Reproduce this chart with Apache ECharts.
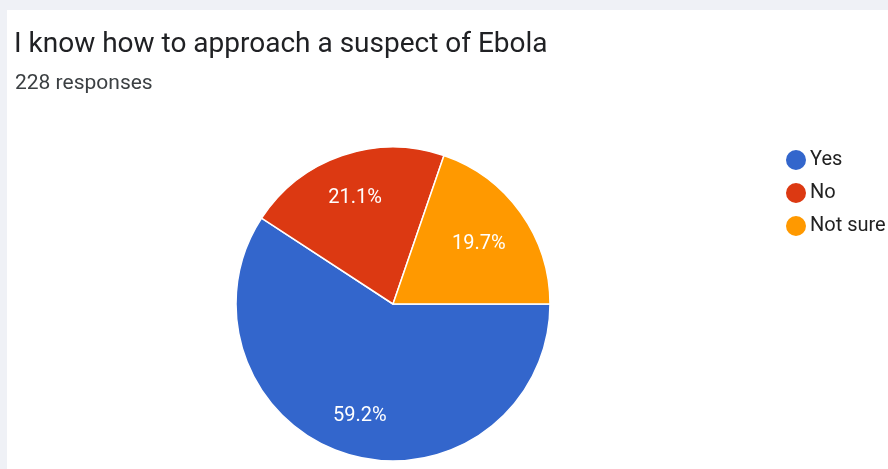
<!DOCTYPE html>
<html>
<head>
<meta charset="utf-8">
<script src="https://cdn.jsdelivr.net/npm/echarts@6/dist/echarts.min.js"></script>
<style>
  html, body { margin: 0; padding: 0; background: #eff1f6; }
  #chart { width: 888px; height: 469px; }
</style>
</head>
<body>
<div id="chart"></div>
<script>
// Survey answers and response counts (228 responses in total)
const categories = ['Yes', 'No', 'Not sure'];
const counts = [135, 48, 45];
const colors = ['#3366cc', '#dc3912', '#ff9900'];
const questionTitle = 'I know how to approach a suspect of Ebola';
const responseNote = '228 responses';

// small nudges so each percentage sits comfortably inside its slice
const labelNudges = [[0, 0], [0, 4], [-9, 8]];

const total = counts.reduce((a, b) => a + b, 0);
const pieData = categories.map((name, i) => ({ name, value: counts[i] }));
const labelData = categories.map((name, i) => ({
  name,
  value: counts[i],
  label: { offset: labelNudges[i] }
}));

const chart = echarts.init(document.getElementById('chart'), null, { renderer: 'canvas' });

const CENTER = [393, 304];
const RADIUS = 157;

chart.setOption({
  backgroundColor: '#eff1f6',
  color: colors,
  animation: false,
  graphic: [{
    type: 'rect',
    z: -10,
    shape: { x: 7, y: 10, width: 881, height: 459 },
    style: { fill: '#ffffff' },
    silent: true
  }],
  title: [
    {
      text: questionTitle,
      left: 9,
      top: 26,
      textStyle: { fontFamily: 'Roboto', fontSize: 28, fontWeight: 'normal', color: '#202124' }
    },
    {
      text: responseNote,
      left: 10,
      top: 68,
      textStyle: { fontFamily: 'Roboto', fontSize: 21, fontWeight: 'normal', color: '#3c4043' }
    }
  ],
  legend: {
    orient: 'vertical',
    left: 779,
    top: 143,
    icon: 'circle',
    itemWidth: 22,
    itemHeight: 22,
    itemGap: 9,
    data: categories,
    textStyle: { fontFamily: 'Roboto', fontSize: 20, color: '#222222', padding: [0, 0, 0, -2] }
  },
  series: [
    {
      type: 'pie',
      center: CENTER,
      radius: [0, RADIUS],
      startAngle: 0,
      clockwise: true,
      data: pieData,
      label: { show: false },
      labelLine: { show: false },
      itemStyle: { borderColor: '#ffffff', borderWidth: 1.5 },
      emphasis: { disabled: true }
    },
    {
      // label ring: percentages placed at ~72% of the radius
      type: 'pie',
      center: CENTER,
      radius: [70, RADIUS],
      startAngle: 0,
      clockwise: true,
      silent: true,
      legendHoverLink: false,
      data: labelData,
      itemStyle: { color: 'rgba(0,0,0,0)' },
      labelLine: { show: false },
      label: {
        show: true,
        position: 'inside',
        fontFamily: 'Roboto',
        fontSize: 20,
        color: '#ffffff',
        formatter: p => (p.value / total * 100).toFixed(1) + '%'
      },
      emphasis: { disabled: true }
    }
  ]
});
</script>
</body>
</html>
